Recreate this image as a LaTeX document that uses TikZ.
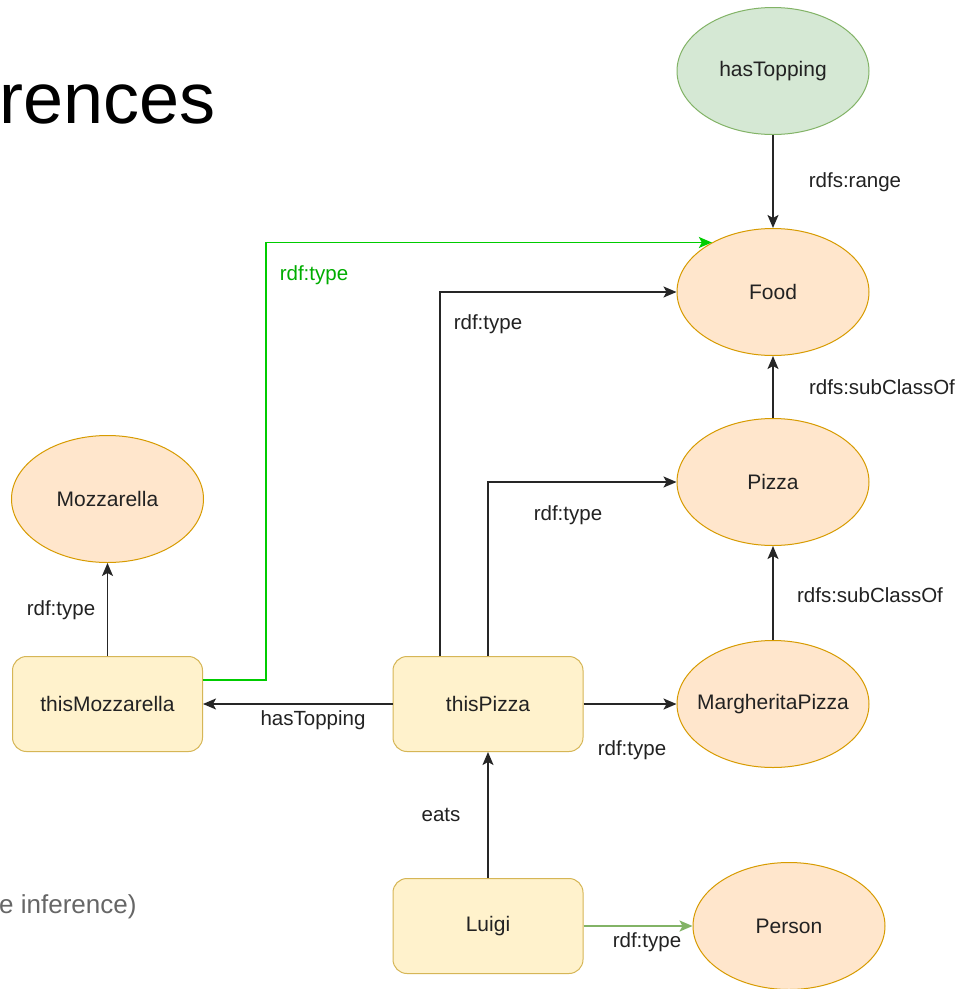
\documentclass[tikz,border=0pt]{standalone}
\usepackage{fontspec}
\setmainfont{Liberation Sans}
\usetikzlibrary{arrows.meta,shapes.geometric}
\definecolor{orfill}{HTML}{FFE6CC}
\definecolor{ordraw}{HTML}{D79B00}
\definecolor{yefill}{HTML}{FFF2CC}
\definecolor{yedraw}{HTML}{D6B656}
\definecolor{grfill}{HTML}{D5E8D4}
\definecolor{grdraw}{HTML}{82B366}
\definecolor{brightgreen}{HTML}{00CC00}
\definecolor{txt}{HTML}{222222}
\tikzset{
  classnode/.style={ellipse, draw=ordraw, fill=orfill, line width=1pt, minimum width=192pt, minimum height=127pt, inner sep=0pt, text=txt, font=\fontsize{21}{24}\selectfont},
  propnode/.style={classnode, draw=grdraw, fill=grfill},
  instnode/.style={rectangle, rounded corners=14pt, draw=yedraw, fill=yefill, line width=1pt, minimum width=190pt, minimum height=95pt, inner sep=0pt, text=txt, font=\fontsize{21}{24}\selectfont},
  conn/.style={line width=1.6pt, draw=black!85, -{Stealth[length=13pt,width=11pt,inset=3pt]}},
  greenconn/.style={conn, draw=brightgreen, -{Stealth[length=13pt,width=11pt,inset=3pt,fill=brightgreen]}},
  softgreenconn/.style={conn, draw=grdraw, -{Stealth[length=13pt,width=11pt,inset=3pt,fill=grdraw]}},
  elabel/.style={text=txt, font=\fontsize{20.5}{24}\selectfont, inner sep=1pt},
}
\begin{document}
\begin{tikzpicture}[x=1pt,y=-1pt]
\fill[white] (0,0) rectangle (980,989);
\useasboundingbox (0,0) rectangle (980,989);

% cropped texts
\node[anchor=base east, inner sep=0pt, font=\fontsize{72}{80}\selectfont] (title) at (216,123) {rences};
\node[anchor=base west, inner sep=0pt, text=black!60, font=\fontsize{26}{30}\selectfont] (note) at (-1,913) {e inference)};

% nodes
\node[propnode] (hasTopping) at (773,71) {hasTopping};
\node[classnode] (Food) at (773,292) {Food};
\node[classnode] (Pizza) at (773,482) {Pizza};
\node[classnode] (Margherita) at (773,704) {\makebox[0pt]{MargheritaPizza}};
\node[classnode] (Person) at (789,926) {Person};
\node[classnode] (Mozzarella) at (107.5,499) {Mozzarella};
\node[instnode] (thisMozzarella) at (107.5,704) {thisMozzarella};
\node[instnode] (thisPizza) at (488,704) {thisPizza};
\node[instnode] (Luigi) at (488,926) {Luigi};

% connectors
\draw[conn] (hasTopping.south) -- (Food.north);
\draw[greenconn] (thisMozzarella.east |- 0,680) -- (266,680) |- (Food.141);
\draw[conn] (thisPizza.north -| 440,0) |- (Food.west);
\draw[conn] (thisPizza.north) |- (Pizza.west);
\draw[conn] (Pizza.north) -- (Food.south);
\draw[conn] (Margherita.north) -- (Pizza.south);
\draw[conn] (thisMozzarella.north) -- (Mozzarella.south);
\draw[conn] (thisPizza.west) -- (thisMozzarella.east);
\draw[conn] (thisPizza.east) -- (Margherita.west);
\draw[conn] (Luigi.north) -- (thisPizza.south);
\draw[softgreenconn] (Luigi.east) -- (Person.west);

% labels
\node[elabel] (l1) at (855,182) {rdfs:range};
\node[elabel, text=brightgreen!85!black] (l2) at (314,275) {rdf:type};
\node[elabel] (l3) at (488,324) {rdf:type};
\node[elabel] (l4) at (568,515) {rdf:type};
\node[elabel] (l5) at (882,387) {rdfs:subClassOf};
\node[elabel] (l6) at (870,595) {rdfs:subClassOf};
\node[elabel] (l7) at (61,610) {rdf:type};
\node[elabel] (l8) at (313,720) {hasTopping};
\node[elabel] (l9) at (632,750) {rdf:type};
\node[elabel] (l10) at (441,815) {eats};
\node[elabel] (l11) at (647,942) {rdf:type};
\end{tikzpicture}
\end{document}
